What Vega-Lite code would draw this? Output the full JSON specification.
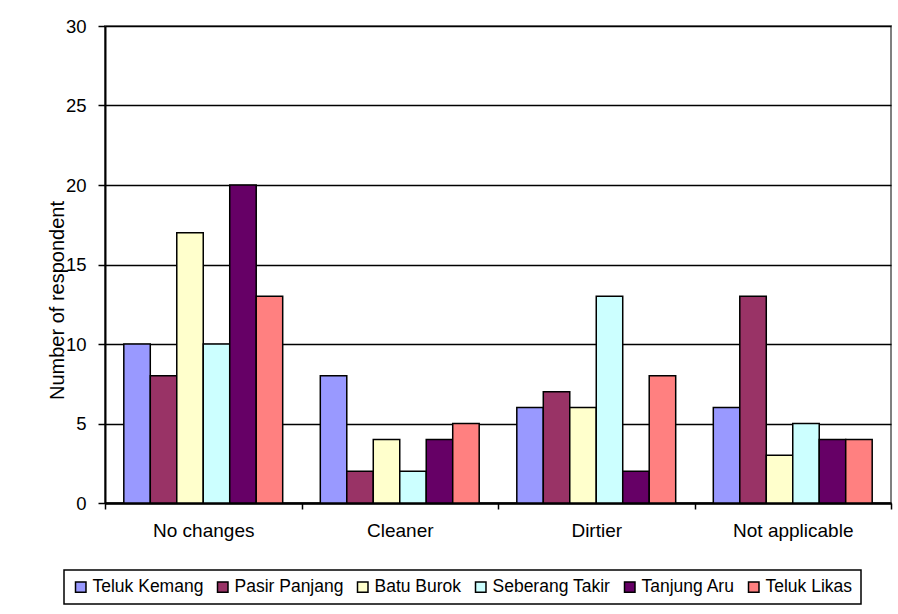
{
  "$schema": "https://vega.github.io/schema/vega-lite/v6.json",
  "width": 786,
  "height": 477,
  "autosize": {"type": "none"},
  "padding": {"left": 105, "top": 26, "right": 7, "bottom": 111},
  "background": "white",
  "data": {
    "values": [
      {"answer": "No changes", "site": "Teluk Kemang", "n": 10},
      {"answer": "No changes", "site": "Pasir Panjang", "n": 8},
      {"answer": "No changes", "site": "Batu Burok", "n": 17},
      {"answer": "No changes", "site": "Seberang Takir", "n": 10},
      {"answer": "No changes", "site": "Tanjung Aru", "n": 20},
      {"answer": "No changes", "site": "Teluk Likas", "n": 13},
      {"answer": "Cleaner", "site": "Teluk Kemang", "n": 8},
      {"answer": "Cleaner", "site": "Pasir Panjang", "n": 2},
      {"answer": "Cleaner", "site": "Batu Burok", "n": 4},
      {"answer": "Cleaner", "site": "Seberang Takir", "n": 2},
      {"answer": "Cleaner", "site": "Tanjung Aru", "n": 4},
      {"answer": "Cleaner", "site": "Teluk Likas", "n": 5},
      {"answer": "Dirtier", "site": "Teluk Kemang", "n": 6},
      {"answer": "Dirtier", "site": "Pasir Panjang", "n": 7},
      {"answer": "Dirtier", "site": "Batu Burok", "n": 6},
      {"answer": "Dirtier", "site": "Seberang Takir", "n": 13},
      {"answer": "Dirtier", "site": "Tanjung Aru", "n": 2},
      {"answer": "Dirtier", "site": "Teluk Likas", "n": 8},
      {"answer": "Not applicable", "site": "Teluk Kemang", "n": 6},
      {"answer": "Not applicable", "site": "Pasir Panjang", "n": 13},
      {"answer": "Not applicable", "site": "Batu Burok", "n": 3},
      {"answer": "Not applicable", "site": "Seberang Takir", "n": 5},
      {"answer": "Not applicable", "site": "Tanjung Aru", "n": 4},
      {"answer": "Not applicable", "site": "Teluk Likas", "n": 4}
    ]
  },
  "mark": {"type": "bar", "stroke": "black", "strokeWidth": 1.5},
  "encoding": {
    "x": {
      "field": "answer",
      "type": "nominal",
      "sort": ["No changes", "Cleaner", "Dirtier", "Not applicable"],
      "scale": {"paddingInner": 0, "paddingOuter": 0},
      "axis": {
        "title": null,
        "labelAngle": 0,
        "labelFont": "Liberation Sans",
        "labelFontSize": 19,
        "labelColor": "black",
        "labelPadding": 12,
        "tickBand": "extent",
        "tickColor": "black",
        "tickSize": 6,
        "tickWidth": 1.5,
        "domainColor": "black",
        "domainWidth": 2.5,
        "grid": false
      }
    },
    "xOffset": {
      "field": "site",
      "type": "nominal",
      "sort": ["Teluk Kemang", "Pasir Panjang", "Batu Burok", "Seberang Takir", "Tanjung Aru", "Teluk Likas"],
      "scale": {"paddingInner": 0, "paddingOuter": 0.71}
    },
    "y": {
      "field": "n",
      "type": "quantitative",
      "scale": {"domain": [0, 30], "nice": false},
      "axis": {
        "title": "Number of respondent",
        "titleFont": "Liberation Sans",
        "titleFontSize": 20,
        "titleFontWeight": "normal",
        "titleColor": "black",
        "titleX": -48,
        "titleY": 274,
        "titleAngle": -90,
        "titleAlign": "center",
        "titleBaseline": "middle",
        "values": [0, 5, 10, 15, 20, 25, 30],
        "labelFont": "Liberation Sans",
        "labelFontSize": 18.5,
        "labelColor": "black",
        "labelPadding": 12,
        "tickColor": "black",
        "tickSize": 7,
        "tickWidth": 1.5,
        "domainColor": "black",
        "domainWidth": 2,
        "grid": true,
        "gridColor": "black",
        "gridWidth": 1.5
      }
    },
    "color": {
      "field": "site",
      "type": "nominal",
      "sort": ["Teluk Kemang", "Pasir Panjang", "Batu Burok", "Seberang Takir", "Tanjung Aru", "Teluk Likas"],
      "scale": {
        "domain": ["Teluk Kemang", "Pasir Panjang", "Batu Burok", "Seberang Takir", "Tanjung Aru", "Teluk Likas"],
        "range": ["#9999FF", "#993366", "#FFFFCC", "#CCFFFF", "#660066", "#FF8080"]
      },
      "legend": {
        "title": null,
        "orient": "none",
        "direction": "horizontal",
        "legendX": -41,
        "legendY": 544,
        "symbolType": "square",
        "symbolSize": 110,
        "symbolStrokeColor": "black",
        "symbolStrokeWidth": 1.5,
        "symbolOpacity": 1,
        "labelFont": "Liberation Sans",
        "labelFontSize": 17.5,
        "labelColor": "black",
        "labelOffset": 3,
        "columnPadding": 10,
        "padding": 8,
        "strokeColor": "black",
        "fillColor": "white"
      }
    }
  },
  "config": {
    "view": {"stroke": "#808080", "strokeWidth": 2},
    "legend": {"strokeWidth": 1.5}
  }
}
